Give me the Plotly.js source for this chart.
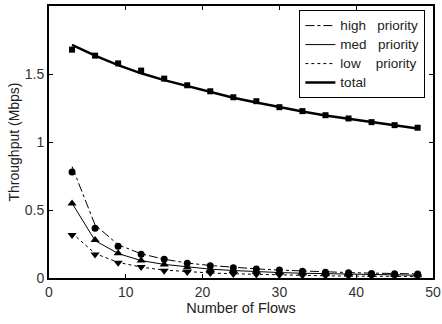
<!DOCTYPE html>
<html><head><meta charset="utf-8">
<script src="https://cdn.plot.ly/plotly-3.0.1.min.js"></script>
<style>html,body{margin:0;padding:0;background:#fff}#c{width:442px;height:324px}</style>
</head><body><div id="c"></div>
<script>
const flows = [3,6,9,12,15,18,21,24,27,30,33,36,39,42,45,48];
const highPts = [0.78,0.365,0.233,0.174,0.137,0.108,0.09,0.076,0.066,0.058,0.05,0.043,0.038,0.034,0.032,0.03];
const medPts  = [0.548,0.28,0.182,0.129,0.1,0.078,0.063,0.055,0.045,0.04,0.035,0.03,0.027,0.024,0.022,0.02];
const lowPts  = [0.317,0.173,0.112,0.08,0.053,0.045,0.037,0.03,0.026,0.022,0.018,0.016,0.014,0.013,0.012,0.011];
const totalPts= [1.679,1.635,1.578,1.525,1.466,1.417,1.373,1.329,1.3,1.256,1.227,1.197,1.173,1.146,1.124,1.105];
const highLine = [0.82,0.39,0.245,0.178,0.138,0.11,0.092,0.078,0.067,0.058,0.051,0.045,0.04,0.036,0.033,0.03];
const medLine  = [0.55,0.275,0.18,0.128,0.1,0.08,0.065,0.055,0.046,0.04,0.035,0.031,0.027,0.024,0.022,0.02];
const lowLine  = [0.33,0.18,0.115,0.08,0.058,0.046,0.037,0.031,0.026,0.022,0.019,0.016,0.014,0.013,0.012,0.011];
const totalLine= [1.715,1.635,1.565,1.505,1.455,1.41,1.365,1.325,1.29,1.255,1.225,1.195,1.17,1.145,1.12,1.10];
const names = ['high\u00a0\u00a0\u00a0priority','med\u00a0\u00a0\u00a0priority','low\u00a0\u00a0\u00a0\u00a0priority','total'];
const legendName = s => '<span style="font-size:13.5px">' + s + '</span>';

const traces = [
  {x:flows,y:highLine,mode:'lines',name:legendName(names[0]),line:{color:'#000',width:1,dash:'dashdot'}},
  {x:flows,y:medLine,mode:'lines',name:legendName(names[1]),line:{color:'#000',width:1,dash:'solid'}},
  {x:flows,y:lowLine,mode:'lines',name:legendName(names[2]),line:{color:'#000',width:1,dash:'dot'}},
  {x:flows,y:totalLine,mode:'lines',name:legendName(names[3]),line:{color:'#000',width:2.5}},
  {x:flows,y:highPts,mode:'markers',showlegend:false,marker:{symbol:'circle',size:7,color:'#000'}},
  {x:flows,y:medPts,mode:'markers',showlegend:false,marker:{symbol:'triangle-up',size:8,color:'#000'}},
  {x:flows,y:lowPts,mode:'markers',showlegend:false,marker:{symbol:'triangle-down',size:8,color:'#000'}},
  {x:flows,y:totalPts,mode:'markers',showlegend:false,marker:{symbol:'square',size:6,color:'#000'}}
];
const axisCommon = {showgrid:false,zeroline:false,showline:true,linecolor:'#000',linewidth:2,
  mirror:'ticks',ticks:'inside',ticklen:4,tickcolor:'#000',tickwidth:1,tickfont:{size:14,color:'#333'}};
const layout = {
  width:442,height:324,
  margin:{l:49,r:9,t:6,b:46},
  paper_bgcolor:'#fff',plot_bgcolor:'#fff',
  font:{family:'Liberation Sans, Arial, sans-serif',size:14,color:'#222'},
  xaxis:Object.assign({},axisCommon,{range:[0,50],dtick:10,tick0:0,
    title:{text:'Number of Flows',font:{size:14.5},standoff:2}}),
  yaxis:Object.assign({},axisCommon,{range:[0,2],dtick:0.5,tick0:0,
    title:{text:'Throughput (Mbps)',font:{size:14},standoff:2}}),
  legend:{x:0.652,y:0.985,xanchor:'left',yanchor:'top',bgcolor:'#fff',bordercolor:'#000',borderwidth:1,
    font:{size:12.3},tracegroupgap:0},
  showlegend:true
};
Plotly.newPlot('c',traces,layout,{staticPlot:true,displayModeBar:false});
</script></body></html>
